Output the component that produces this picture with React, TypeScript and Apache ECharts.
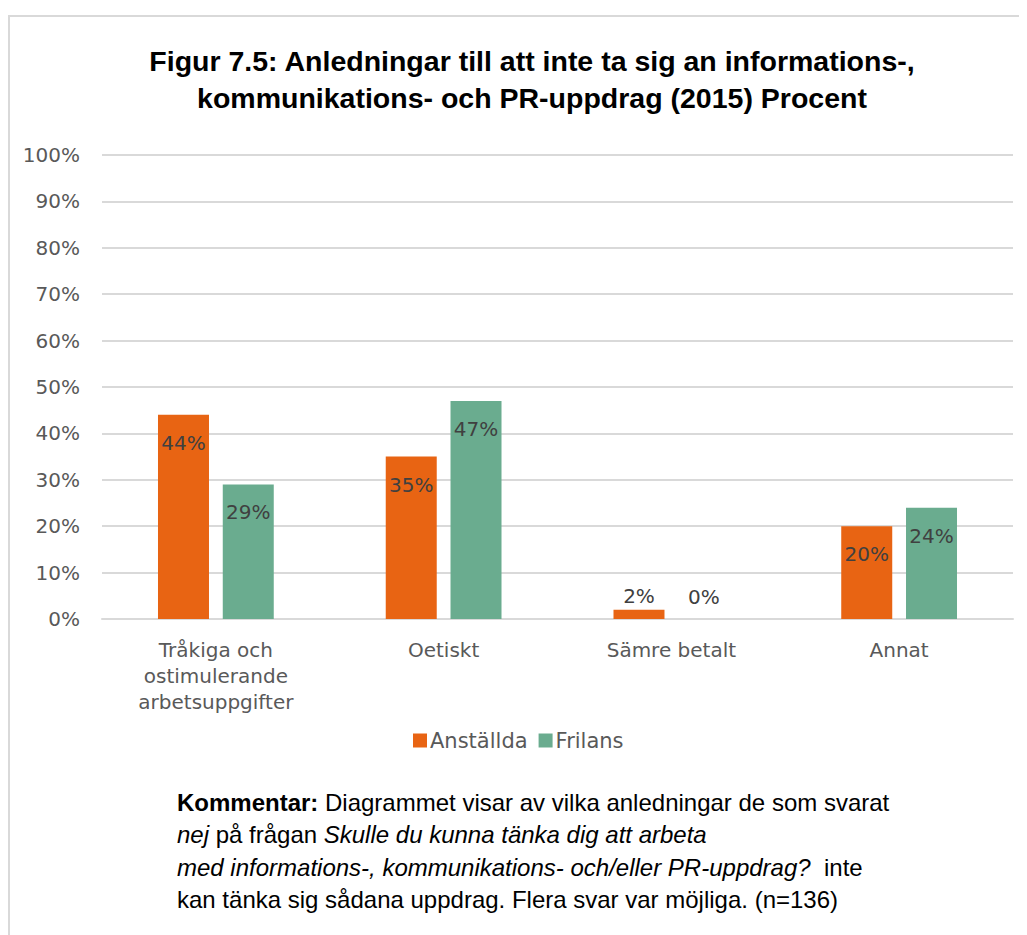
import React, { useEffect, useRef } from "react";
import * as echarts from "echarts";

const categories = [
  "Tråkiga och\nostimulerande\narbetsuppgifter",
  "Oetiskt",
  "Sämre betalt",
  "Annat",
];
const anstallda = [44, 35, 2, 20];
const frilans = [29, 47, 0, 24];
const seriesNames = ["Anställda", "Frilans"];
const titleLines = [
  "Figur 7.5: Anledningar till att inte ta sig an informations-,",
  "kommunikations- och PR-uppdrag (2015) Procent",
];
const commentLines = [
  "{b|Kommentar:} Diagrammet visar av vilka anledningar de som svarat",
  "{i|nej} på frågan {i|Skulle du kunna tänka dig att arbeta}",
  "{i|med informations-, kommunikations- och/eller PR-uppdrag?}  inte",
  "kan tänka sig sådana uppdrag. Flera svar var möjliga. (n=136)",
];

const AXIS_FONT = "'DejaVu Sans', sans-serif";
const BODY_FONT = "'Liberation Sans', Arial, sans-serif";

function toData(values: number[]) {
  return values.map((v) => {
    if (v < 8) {
      return {
        value: v,
        label: { position: "top", distance: v === 0 ? 12 : 4 },
      };
    }
    return { value: v };
  });
}

export default function App() {
  const ref = useRef<HTMLDivElement>(null);
  useEffect(() => {
    if (!ref.current) return;
    const chart = echarts.init(ref.current, undefined, { renderer: "svg" });
    const labelStyle = {
      show: true,
      position: "insideTop",
      distance: 18,
      color: "#404040",
      fontSize: 20,
      fontFamily: AXIS_FONT,
      formatter: "{c}%",
    };
    chart.setOption({
      animation: false,
      backgroundColor: "#ffffff",
      color: ["#E86413", "#6AAC8F"],
      graphic: [
        {
          type: "rect",
          shape: { x: 1, y: 8, width: 1040, height: 1000 },
          style: { fill: "none", stroke: "#d9d9d9", lineWidth: 2 },
          silent: true,
        },
        {
          type: "text",
          x: 524,
          y: 71,
          style: {
            text: titleLines.join("\n"),
            textAlign: "center",
            textVerticalAlign: "middle",
            font: `bold 28.5px ${BODY_FONT}`,
            lineHeight: 37,
            fill: "#000000",
          },
        },
        {
          type: "text",
          x: 169,
          y: 778,
          style: {
            text: commentLines.join("\n"),
            textAlign: "left",
            textVerticalAlign: "top",
            fontSize: 24,
            fontFamily: BODY_FONT,
            lineHeight: 32.5,
            fill: "#000000",
            rich: {
              b: { fontWeight: "bold", fontSize: 24, fontFamily: BODY_FONT, lineHeight: 32.5 },
              i: { fontStyle: "italic", fontSize: 24, fontFamily: BODY_FONT, lineHeight: 32.5 },
            },
          },
        },
      ],
      legend: {
        data: seriesNames,
        left: 400,
        top: 717,
        itemWidth: 14,
        itemHeight: 14,
        itemGap: 11,
        icon: "rect",
        textStyle: { color: "#595959", fontSize: 21, fontFamily: AXIS_FONT, padding: [0, 0, 0, -2] },
      },
      grid: { left: 94, right: 14, top: 147, bottom: 316, containLabel: false },
      xAxis: {
        type: "category",
        data: categories,
        axisLine: { lineStyle: { color: "#d9d9d9", width: 2 } },
        axisTick: { show: false },
        axisLabel: {
          interval: 0,
          color: "#595959",
          fontSize: 20,
          fontFamily: AXIS_FONT,
          lineHeight: 26,
          margin: 18,
        },
      },
      yAxis: {
        type: "value",
        min: 0,
        max: 100,
        interval: 10,
        axisLine: { show: false },
        axisTick: { show: false },
        splitLine: { lineStyle: { color: "#d9d9d9", width: 2 } },
        axisLabel: {
          formatter: "{value}%",
          color: "#595959",
          fontSize: 20,
          fontFamily: AXIS_FONT,
          margin: 22,
        },
      },
      series: [
        {
          name: seriesNames[0],
          type: "bar",
          data: toData(anstallda),
          barWidth: 51,
          barGap: "27%",
          label: labelStyle,
        },
        {
          name: seriesNames[1],
          type: "bar",
          data: toData(frilans),
          barWidth: 51,
          barGap: "27%",
          label: labelStyle,
        },
      ],
    });
    return () => chart.dispose();
  }, []);
  return <div ref={ref} style={{ width: 1019, height: 927 }} />;
}
